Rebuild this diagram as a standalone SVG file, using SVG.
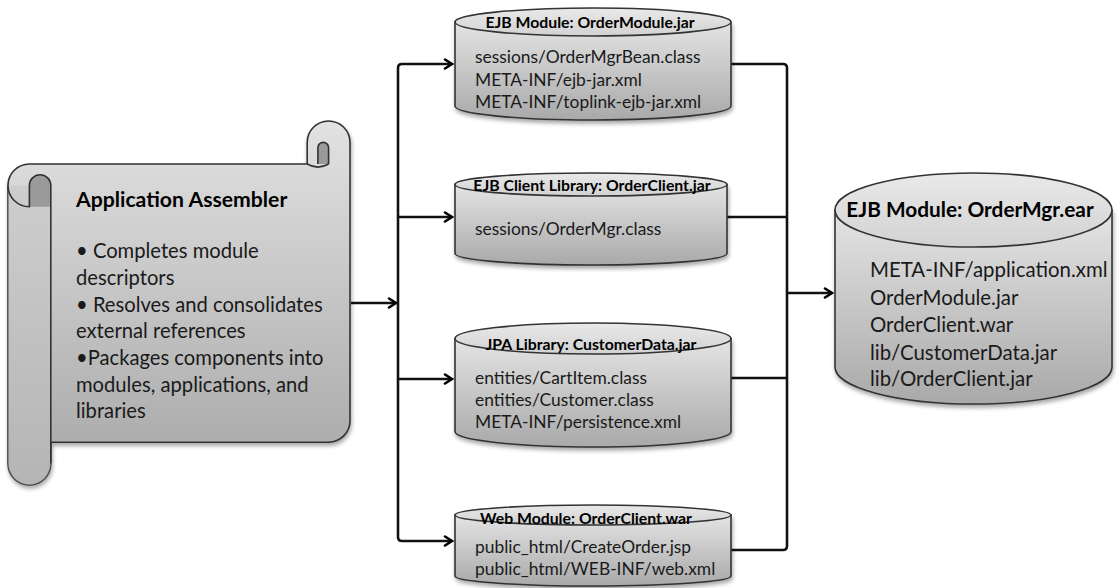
<svg xmlns="http://www.w3.org/2000/svg" width="1118" height="588" viewBox="0 0 1118 588">
<defs>
<linearGradient id="gBody" x1="0" y1="0" x2="0" y2="1">
<stop offset="0" stop-color="#e4e4e4"/><stop offset="1" stop-color="#a9a9a9"/>
</linearGradient>
<linearGradient id="gTop" x1="0" y1="0" x2="0" y2="1">
<stop offset="0" stop-color="#e9e9e9"/><stop offset="1" stop-color="#d2d2d2"/>
</linearGradient>
<linearGradient id="gScroll" x1="0" y1="0" x2="0" y2="1">
<stop offset="0" stop-color="#e2e2e2"/><stop offset="1" stop-color="#a6a6a6"/>
</linearGradient>
<filter id="sh" x="-5%" y="-5%" width="115%" height="115%">
<feGaussianBlur in="SourceAlpha" stdDeviation="2"/>
<feOffset dx="1" dy="3" result="b"/>
<feComponentTransfer><feFuncA type="linear" slope="0.35"/></feComponentTransfer>
<feMerge><feMergeNode/><feMergeNode in="SourceGraphic"/></feMerge>
</filter>
<marker id="arr" markerWidth="12" markerHeight="12" refX="9" refY="6" orient="auto" markerUnits="userSpaceOnUse">
<path d="M2,1.5 L9,6 L2,10.5" fill="none" stroke="#000" stroke-width="2.6" stroke-linecap="round" stroke-linejoin="miter"/>
</marker>
</defs>
<style>
.ln{fill:none;stroke:#111;stroke-width:2.6}
.cy{stroke:#333;stroke-width:1.6}
.t{font-family:Lato,"Liberation Sans",sans-serif;fill:#1a1a1a}
.h{font-weight:bold;fill:#000}
.s1{font-size:20.2px}
.s0{font-size:21.2px}
.s2{font-size:17.4px}
.s3{font-size:15.8px}
.s4{font-size:20.4px}
.s5{font-size:20.8px}
</style>

<g id="connectors">
<line class="ln" x1="351" y1="303" x2="396" y2="303" marker-end="url(#arr)"/>
<path class="ln" d="M398,300 L398,68 Q398,64 402,64 L452,64" marker-end="url(#arr)"/>
<path class="ln" d="M398,300 L398,537 Q398,541 402,541 L452,541" marker-end="url(#arr)"/>
<line class="ln" x1="398" y1="217" x2="452" y2="217" marker-end="url(#arr)"/>
<line class="ln" x1="398" y1="379" x2="452" y2="379" marker-end="url(#arr)"/>
<path class="ln" d="M731,64 L783,64 Q787,64 787,68 L787,546 Q787,550 783,550 L731,550"/>
<line class="ln" x1="727" y1="217" x2="787" y2="217"/>
<line class="ln" x1="731" y1="378" x2="787" y2="378"/>
<line class="ln" x1="787" y1="293" x2="832" y2="293" marker-end="url(#arr)"/>
</g>

<g id="assembler">
<g filter="url(#sh)">
<path d="M29.4,485 A21.4,21.4 0 0 1 8,463.6 L8,185.4 A21.4,21.4 0 0 1 29.4,164 L307.2,164 L307.2,142.4 A21.4,21.4 0 0 1 350,142.4 L350,420.8 A21.4,21.4 0 0 1 328.6,442.2 L50.8,442.2 L50.8,463.6 A21.4,21.4 0 0 1 29.4,485 Z" fill="url(#gScroll)" stroke="#333" stroke-width="1.6"/>
</g>
<path d="M8,185.4 L8,463.6 A21.4,21.4 0 0 0 50.8,463.6 L50.8,185.4 Z" fill="#c4c4c4" opacity="0.5"/>
<path d="M29.4,206.8 L29.4,185.4 A10.7,10.7 0 0 1 50.8,185.4 L50.8,206.8 Z" fill="#9a9a9a"/>
<path d="M8,185.4 A21.4,21.4 0 0 0 29.4,206.8 L29.4,185.4 A10.7,10.7 0 0 1 50.8,185.4 L50.8,463.6" fill="none" stroke="#333" stroke-width="1.6"/>
<path d="M317.9,164 L317.9,147.7 A5.35,5.35 0 0 1 328.6,147.7 L328.6,164 Z" fill="#9a9a9a"/>
<path d="M328.6,164 L328.6,147.7 A5.35,5.35 0 0 0 317.9,147.7 L317.9,164 M307.2,164 A21.4,21.4 0 0 0 328.6,164" fill="none" stroke="#333" stroke-width="1.6"/>
<text class="t h s0" x="76" y="207">Application Assembler</text>
<text class="t s1" x="76" y="258">• Completes module</text>
<text class="t s1" x="76" y="285">descriptors</text>
<text class="t s1" x="76" y="312">• Resolves and consolidates</text>
<text class="t s1" x="76" y="338">external references</text>
<text class="t s1" x="76" y="365">•Packages components into</text>
<text class="t s1" x="76" y="392">modules, applications, and</text>
<text class="t s1" x="76" y="418">libraries</text>
</g>

<g id="ejb-module">
<path class="cy" filter="url(#sh)" d="M455,22 L455,106 A138,14 0 0 0 731,106 L731,22 Z" fill="url(#gBody)"/>
<ellipse class="cy" cx="593" cy="22" rx="138" ry="14" fill="url(#gTop)"/>
<text class="t h s3" x="590" y="28" text-anchor="middle">EJB Module: OrderModule.jar</text>
<text class="t s2" x="475" y="63">sessions/OrderMgrBean.class</text>
<text class="t s2" x="475" y="86">META-INF/ejb-jar.xml</text>
<text class="t s2" x="475" y="108">META-INF/toplink-ejb-jar.xml</text>
</g>

<g id="ejb-client">
<path class="cy" filter="url(#sh)" d="M455,184.5 L455,253.5 A136,11.5 0 0 0 727,253.5 L727,184.5 Z" fill="url(#gBody)"/>
<ellipse class="cy" cx="591" cy="184.5" rx="136" ry="11.5" fill="url(#gTop)"/>
<text class="t h s3" x="592" y="191" text-anchor="middle">EJB Client Library: OrderClient.jar</text>
<text class="t s2" x="475" y="235">sessions/OrderMgr.class</text>
</g>

<g id="jpa-library">
<path class="cy" filter="url(#sh)" d="M455,338.5 L455,431.5 A138,15.5 0 0 0 731,431.5 L731,338.5 Z" fill="url(#gBody)"/>
<ellipse class="cy" cx="593" cy="338.5" rx="138" ry="15.5" fill="url(#gTop)"/>
<text class="t h s3" x="591" y="350" text-anchor="middle">JPA Library: CustomerData.jar</text>
<text class="t s2" x="475" y="384">entities/CartItem.class</text>
<text class="t s2" x="475" y="406">entities/Customer.class</text>
<text class="t s2" x="475" y="428">META-INF/persistence.xml</text>
</g>

<g id="web-module">
<path class="cy" filter="url(#sh)" d="M455,515 L455,576 A138,10 0 0 0 731,576 L731,515 Z" fill="url(#gBody)"/>
<ellipse class="cy" cx="593" cy="515" rx="138" ry="10" fill="url(#gTop)"/>
<text class="t h s3" x="586" y="524" text-anchor="middle">Web Module: OrderClient.war</text>
<text class="t s2" x="475" y="553">public_html/CreateOrder.jsp</text>
<text class="t s2" x="475" y="575">public_html/WEB-INF/web.xml</text>
</g>

<g id="ear">
<path class="cy" filter="url(#sh)" d="M835,210 L835,367 A138.5,37 0 0 0 1112,367 L1112,210 Z" fill="url(#gBody)"/>
<ellipse class="cy" cx="973.5" cy="210" rx="138.5" ry="37" fill="url(#gTop)"/>
<text class="t h s5" x="970" y="217" text-anchor="middle">EJB Module: OrderMgr.ear</text>
<text class="t s4" x="870" y="277">META-INF/application.xml</text>
<text class="t s4" x="870" y="305">OrderModule.jar</text>
<text class="t s4" x="870" y="332">OrderClient.war</text>
<text class="t s4" x="870" y="360">lib/CustomerData.jar</text>
<text class="t s4" x="870" y="386">lib/OrderClient.jar</text>
</g>
</svg>
